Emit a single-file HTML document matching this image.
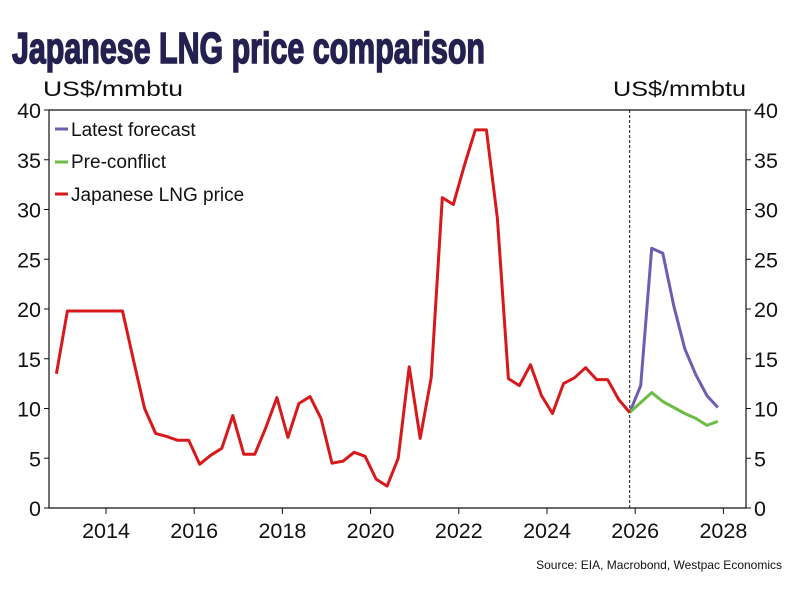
<!DOCTYPE html>
<html><head><meta charset="utf-8"><style>
html,body{margin:0;padding:0;background:#fff;}
svg{display:block;font-family:"Liberation Sans",sans-serif;}
</style></head><body>
<svg id="chart" width="807" height="592" viewBox="0 0 807 592">
<text x="12" y="63" font-size="44" font-weight="bold" fill="#24204f" stroke="#24204f" stroke-width="1.6" textLength="473" lengthAdjust="spacingAndGlyphs">Japanese LNG price comparison</text>
<text x="43" y="96" font-size="21" fill="#111" textLength="140" lengthAdjust="spacingAndGlyphs">US$/mmbtu</text>
<text x="613" y="96" font-size="21" fill="#111" textLength="133" lengthAdjust="spacingAndGlyphs">US$/mmbtu</text>
<g id="axes"></g>
<g id="series"></g>
<g>
<line x1="55" y1="129" x2="68" y2="129" stroke="#6a5fb0" stroke-width="3"/>
<text x="71" y="136" font-size="19" fill="#111">Latest forecast</text>
<line x1="55" y1="162" x2="68" y2="162" stroke="#6cbd45" stroke-width="3"/>
<text x="71" y="168" font-size="19" fill="#111">Pre-conflict</text>
<line x1="55" y1="194" x2="68" y2="194" stroke="#d7191c" stroke-width="3"/>
<text x="71" y="201" font-size="19" fill="#111">Japanese LNG price</text>
</g>
<text x="782" y="569" font-size="12" fill="#111" text-anchor="end">Source: EIA, Macrobond, Westpac Economics</text>
</svg>
<script>
const startYear = 2012.875; // first quarter (Q4 2012), mid-quarter
const lngValues = [13.5,19.8,19.8,19.8,19.8,19.8,19.8,14.8,10.0,7.5,7.2,6.8,6.8,4.4,5.3,6.0,9.3,5.4,5.4,8.1,11.1,7.1,10.5,11.2,9.0,4.5,4.7,5.6,5.2,2.9,2.2,5.0,14.2,7.0,13.1,31.2,30.5,34.4,38.0,38.0,29.1,13.0,12.3,14.4,11.3,9.5,12.5,13.1,14.1,12.9,12.9,10.9,9.6];
const forecastStart = 52;
const forecastValues = [9.6,12.3,26.1,25.6,20.3,16.0,13.4,11.3,10.1];
const preConflictValues = [9.6,10.6,11.6,10.7,10.1,9.5,9.0,8.3,8.7];
const yTicks = [0,5,10,15,20,25,30,35,40];
const xTicks = [2014,2016,2018,2020,2022,2024,2026,2028];
const dividerIndex = 52;

const NS = "http://www.w3.org/2000/svg";
const L = 49, R = 746, T = 110, B = 508;
function xs(year){ return 106 + (year - 2014) * 44.1; }
function ys(v){ return B - (v / 40) * (B - T); }
function qx(i){ return xs(startYear + i / 4); }
function mk(tag, attrs, parent){ const e = document.createElementNS(NS, tag); for (const k in attrs) e.setAttribute(k, attrs[k]); parent.appendChild(e); return e; }

const axes = document.getElementById('axes');
const series = document.getElementById('series');
let e;
e = mk('polyline', {points:`${L},${T} ${L},${B} ${R},${B} ${R},${T}`, fill:'none', stroke:'#111', 'stroke-width':1.2}, axes);


e = mk('line', {x1:L, y1:T, x2:R, y2:T, stroke:'#111', 'stroke-width':1.2}, axes);



yTicks.forEach(v => {
  const y = ys(v);
  mk('line', {x1:L-5, y1:y, x2:L, y2:y, stroke:'#111', 'stroke-width':1}, axes);
  mk('line', {x1:R, y1:y, x2:R+5, y2:y, stroke:'#111', 'stroke-width':1}, axes);
  e = mk('text', {x:41, y:y+8, 'font-size':21.5, 'text-anchor':'end', fill:'#111'}, axes);
  e.textContent = v;
  
  
  e = mk('text', {x:754, y:y+8, 'font-size':21.5, fill:'#111'}, axes);
  e.textContent = v;
  
  
});
xTicks.forEach(yr => {
  const x = xs(yr);
  mk('line', {x1:x, y1:B, x2:x, y2:B+6, stroke:'#111', 'stroke-width':1}, axes);
  e = mk('text', {x:x, y:538, 'font-size':21.5, 'text-anchor':'middle', fill:'#111'}, axes);
  e.textContent = yr;
  
  
});
e = mk('line', {x1:qx(dividerIndex), y1:T, x2:qx(dividerIndex), y2:B, stroke:'#111', 'stroke-width':1, 'stroke-dasharray':'3,2'}, axes);



function line(vals, off, color, name){
  const pts = vals.map((v,i) => `${qx(i+off).toFixed(1)},${ys(v).toFixed(1)}`).join(' ');
  const p = mk('polyline', {points:pts, fill:'none', stroke:color, 'stroke-width':3, 'stroke-linejoin':'round'}, series);
  
  
}
line(forecastValues, forecastStart, '#6a5fb0', 'latest-forecast-line');
line(preConflictValues, forecastStart, '#6cbd45', 'pre-conflict-line');
line(lngValues, 0, '#d7191c', 'japanese-lng-price-line');
</script>
</body></html>
